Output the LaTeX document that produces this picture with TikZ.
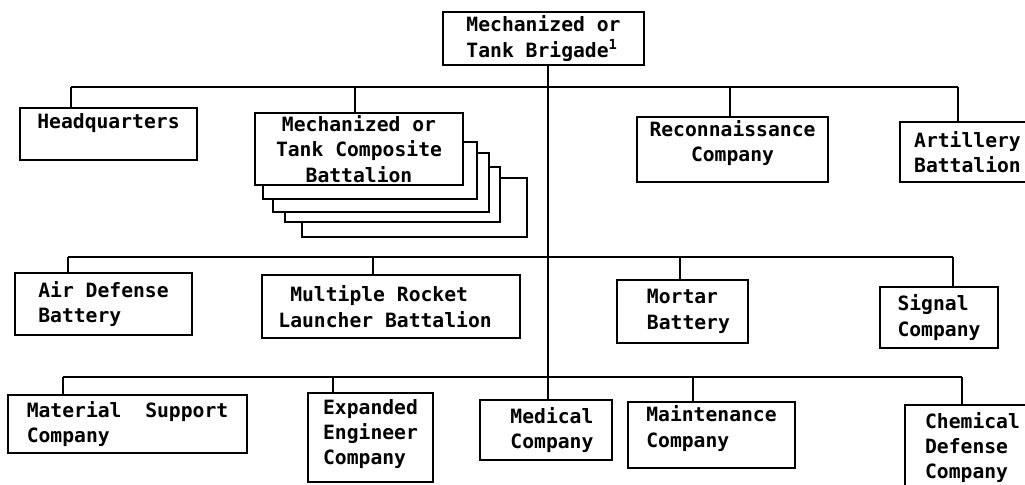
\documentclass[tikz,border=0pt]{standalone}
\usepackage{fontspec}
\setmainfont{DejaVu Sans Mono}

\begin{document}
\begin{tikzpicture}[
		x=0.025cm, y=-0.025cm,
		unit/.style={draw, line width=1.1pt, fill=white, inner sep=0pt, align=left, font=\fontsize{14}{18}\selectfont\bfseries},
		wire/.style={line width=1.1pt}
	]
	\useasboundingbox (0,0) rectangle (1025,485);
	\clip (0,0) rectangle (1025,485);

	\node[unit, minimum width=5.025cm, minimum height=1.325cm] (brigade) at (543.5,38.5) {Mechanized or\\Tank Brigade\textsuperscript{1}};

	% first row
	\node[unit, minimum width=4.425cm, minimum height=1.3cm] (hq) at (108.5,134) {Headquarters\\~};
	\node[unit, minimum width=5.625cm, minimum height=1.475cm] (bat4) at (414.5,207.5) {};
	\node[unit, minimum width=5.375cm, minimum height=1.375cm] (bat3) at (392.5,194.5) {};
	\node[unit, minimum width=5.4cm, minimum height=1.475cm] (bat2) at (381,182.5) {};
	\node[unit, minimum width=5.35cm, minimum height=1.425cm] (bat1) at (370,170.5) {};
	\node[unit, align=center, minimum width=5.2cm, minimum height=1.8cm] (combat) at (359,149) {Mechanized or\\Tank Composite\\Battalion};
	\node[unit, align=center, minimum width=4.775cm, minimum height=1.625cm] (recon) at (732.5,149.5) {Reconnaissance\\Company\\[-6pt]~};
	\node[unit, minimum width=3.375cm, minimum height=1.5cm] (art) at (967.5,152) {Artillery\\Battalion};

	% second row
	\node[unit, minimum width=4.425cm, minimum height=1.55cm] (airdef) at (103.5,304) {Air Defense\\Battery};
	\node[unit, minimum width=6.45cm, minimum height=1.575cm] (mrl) at (391,306.5) {\ Multiple Rocket\\Launcher Battalion\ \ };
	\node[unit, minimum width=3.275cm, minimum height=1.575cm] (mortar) at (682.5,311.5) {\ Mortar\\\ Battery};
	\node[unit, minimum width=2.95cm, minimum height=1.525cm] (signal) at (939,317.5) {Signal\\Company};

	% third row
	\node[unit, minimum width=5.975cm, minimum height=1.45cm] (matsup) at (127.5,424) {Material~ Support\\Company};
	\node[unit, minimum width=3.125cm, minimum height=2.225cm] (engr) at (370.5,437.5) {Expanded\\Engineer\\Company\\[-10pt]~};
	\node[unit, minimum width=3.3cm, minimum height=1.5cm] (medical) at (546,430) {\ Medical\\\ Company};
	\node[unit, minimum width=4.175cm, minimum height=1.65cm] (maint) at (711.5,435) {Maintenance\\Company\\[-6pt]~};
	\node[unit, minimum width=3.375cm, minimum height=2.125cm] (chem) at (972.5,447.5) {Chemical\\Defense\\Company};

	% trunk and branch lines
	\coordinate (trunk) at (548,0);
	\draw[wire] (brigade.south -| trunk) -- (medical.north -| trunk);

	\coordinate (r1a) at (71,87);
	\coordinate (r1b) at (355,87);
	\coordinate (r1c) at (730,87);
	\coordinate (r1d) at (958,87);
	\draw[wire] (r1a) -- (r1d);
	\draw[wire] (r1a) -- (hq.north -| r1a);
	\draw[wire] (r1b) -- (combat.north -| r1b);
	\draw[wire] (r1c) -- (recon.north -| r1c);
	\draw[wire] (r1d) -- (art.north -| r1d);

	\coordinate (r2a) at (68,257);
	\coordinate (r2b) at (373,257);
	\coordinate (r2c) at (680,257);
	\coordinate (r2d) at (953,257);
	\draw[wire] (r2a) -- (r2d);
	\draw[wire] (r2a) -- (airdef.north -| r2a);
	\draw[wire] (r2b) -- (mrl.north -| r2b);
	\draw[wire] (r2c) -- (mortar.north -| r2c);
	\draw[wire] (r2d) -- (signal.north -| r2d);

	\coordinate (r3a) at (63,377);
	\coordinate (r3b) at (333,377);
	\coordinate (r3c) at (693,377);
	\coordinate (r3d) at (962,377);
	\draw[wire] (r3a) -- (r3d);
	\draw[wire] (r3a) -- (matsup.north -| r3a);
	\draw[wire] (r3b) -- (engr.north -| r3b);
	\draw[wire] (r3c) -- (maint.north -| r3c);
	\draw[wire] (r3d) -- (chem.north -| r3d);
\end{tikzpicture}
\end{document}
